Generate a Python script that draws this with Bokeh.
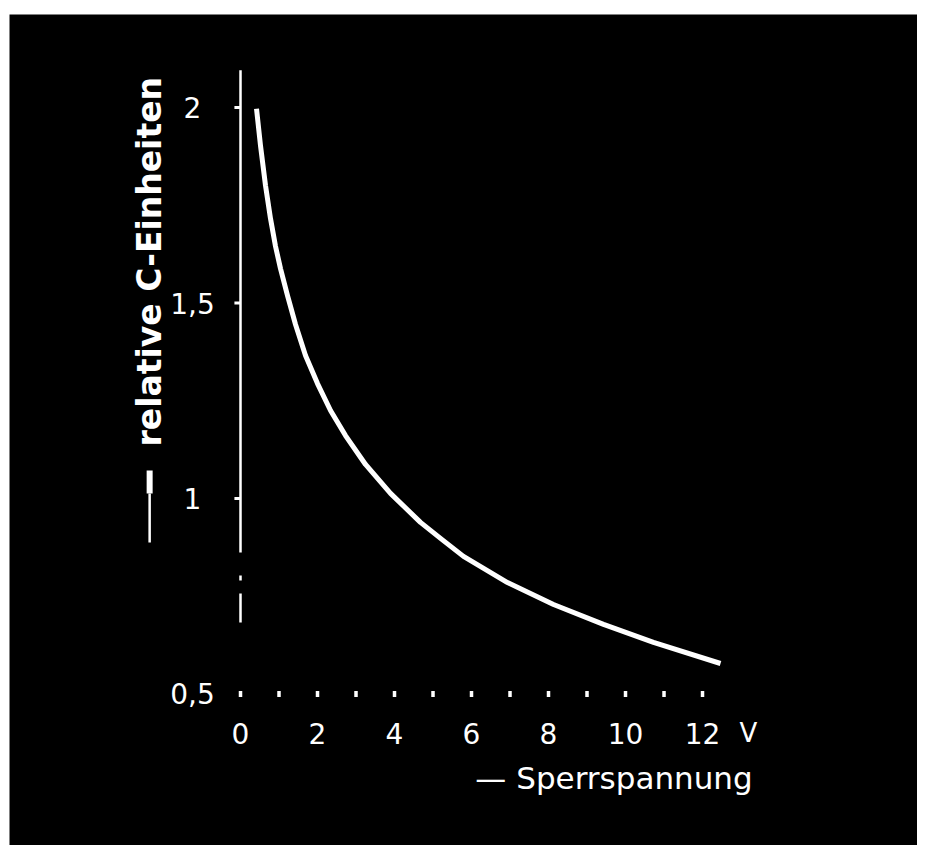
from bokeh.plotting import figure
from bokeh.models import Range1d, Spacer
from bokeh.layouts import column, row
from bokeh.core.properties import value
from bokeh.embed import file_html
from bokeh.resources import INLINE
import math

# Data
spannung = [0.416, 0.519, 0.649, 0.779, 0.909, 1.039, 1.221, 1.429, 1.688, 2.0, 2.338, 2.727,
            3.247, 3.896, 4.675, 5.195, 5.792, 6.935, 8.13, 9.429, 10.727, 12.468]
kapazitaet = [1.997, 1.903, 1.801, 1.716, 1.645, 1.588, 1.519, 1.445, 1.366, 1.294, 1.225, 1.161,
              1.087, 1.013, 0.939, 0.898, 0.852, 0.785, 0.729, 0.678, 0.632, 0.578]

x_major_ticks = [0, 2, 4, 6, 8, 10, 12]
x_minor_ticks = [1, 3, 5, 7, 9, 11]
x_tick_labels = ["0", "2", "4", "6", "8", "10", "12"]
y_ticks = [1.0, 1.5, 2.0]
y_tick_labels = ["1", "1,5", "2"]
y_base = 0.5
y_base_label = "0,5"

# broken y-axis line pieces (value ranges on the y axis)
axis_piece_top = [2.095, 0.803, 0.757]
axis_piece_bottom = [0.862, 0.790, 0.683]

x_title = "— Sperrspannung"
x_unit = "V"
y_title = "relative C-Einheiten"

FONT = value("DejaVu Sans")
W = "white"

p = figure(width=908, height=831, output_backend="svg", toolbar_location=None,
           x_range=Range1d(-6.0, 17.584), y_range=Range1d(0.1125, 2.2379),
           min_border=0)
p.background_fill_color = "black"
p.border_fill_color = "black"
p.outline_line_color = None
p.axis.visible = False
p.grid.visible = False

# positions (in data units) of the label rows / columns
x_label_row = 0.399
y_label_col = -1.247
title_col = -2.36

# broken y axis line
p.segment(x0=[0] * len(axis_piece_top), y0=axis_piece_top,
          x1=[0] * len(axis_piece_top), y1=axis_piece_bottom, line_color=W, line_width=2.5)

# y ticks (small marks left of the axis line)
p.scatter(x=[-0.08] * len(y_ticks), y=y_ticks, marker="dash", size=6, line_color=W, line_width=3)
# x ticks (small vertical marks along the 0,5 level)
all_x_ticks = sorted(x_major_ticks + x_minor_ticks)
p.scatter(x=all_x_ticks, y=[y_base] * len(all_x_ticks), marker="dash", angle=math.pi / 2,
          size=6, line_color=W, line_width=3.5)

# tick labels
p.text(x=x_major_ticks, y=[x_label_row] * len(x_major_ticks), text=x_tick_labels,
       text_color=W, text_font=FONT, text_font_size="28px", text_align="center", text_baseline="middle")
p.text(x=[y_label_col] * (len(y_ticks) + 1), y=y_ticks + [y_base], text=y_tick_labels + [y_base_label],
       text_color=W, text_font=FONT, text_font_size="28px", text_align="center", text_baseline="middle")

# curve
p.line(spannung, kapazitaet, line_color=W, line_width=5, line_cap="butt", line_join="round")

# titles
p.text(x=[6.1], y=[0.2864], text=[x_title], text_color=W, text_font=FONT,
       text_font_size="31px", text_align="left", text_baseline="middle")
p.text(x=[13.19], y=[x_label_row], text=[x_unit], text_color=W, text_font=FONT,
       text_font_size="26px", text_align="center", text_baseline="middle")
p.text(x=[title_col], y=[1.133], text=[y_title], angle=math.pi / 2, text_color=W,
       text_font=FONT, text_font_style="bold", text_font_size="33px",
       text_align="left", text_baseline="middle")
# arrow-like dash in front of the y title
p.segment(x0=[title_col, title_col], y0=[0.8875, 1.0128], x1=[title_col, title_col], y1=[1.0128, 1.0716],
          line_color=W, line_width=[2.5, 6])

layout = column(Spacer(height=14, width=917), row(Spacer(width=9, height=831), p))
open("out.html", "w").write(file_html(layout, INLINE))
